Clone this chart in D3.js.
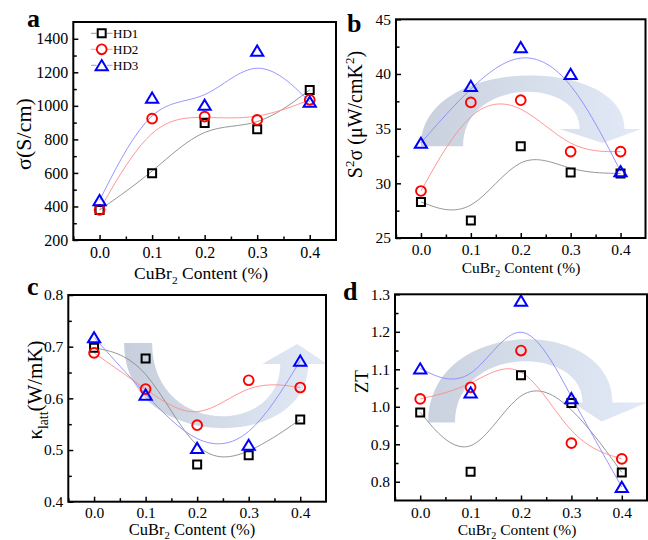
<!DOCTYPE html>
<html><head><meta charset="utf-8">
<script src="https://cdn.jsdelivr.net/npm/d3@7"></script>
<style>
body{margin:0;background:#fff}
text{font-family:"Liberation Serif"}
</style>
</head><body>
<svg id="chart" width="648" height="540"></svg>
<script>
// ---------- data ----------
const contents = [0.0, 0.1, 0.2, 0.3, 0.4];
const seriesNames = ["HD1", "HD2", "HD3"];

// (a) electrical conductivity sigma (S/cm)
const sigmaHD1 = [379, 598, 897, 861, 1095];
const sigmaHD2 = [380, 924, 936, 916, 1036];
const sigmaHD3 = [437, 1049, 1006, 1329, 1024];

// (b) power factor S^2 sigma (uW/cmK^2)
const pfHD1 = [28.3, 26.6, 33.4, 31.0, 30.9];
const pfHD2 = [29.3, 37.4, 37.6, 32.9, 32.9];
const pfHD3 = [33.7, 38.9, 42.45, 40.0, 31.1];

// (c) lattice thermal conductivity (W/mK)
const klHD1 = [0.698, 0.677, 0.472, 0.490, 0.559];
const klHD2 = [0.688, 0.618, 0.548, 0.635, 0.621];
const klHD3 = [0.718, 0.607, 0.504, 0.510, 0.673];

// (d) ZT
const ztHD1 = [0.985, 0.827, 1.084, 1.010, 0.825];
const ztHD2 = [1.021, 1.052, 1.150, 0.903, 0.861];
const ztHD3 = [1.102, 1.038, 1.283, 1.023, 0.786];

// tick labels
const xTickLabels = [0.0, 0.1, 0.2, 0.3, 0.4];
const xMinorTicks = [-0.05, 0.05, 0.15, 0.25, 0.35];
const yTicksA = [200, 400, 600, 800, 1000, 1200, 1400];
const yTicksB = [25, 30, 35, 40, 45];
const yTicksC = [0.4, 0.5, 0.6, 0.7, 0.8];
const yTicksD = [0.8, 0.9, 1.0, 1.1, 1.2, 1.3];

// ---------- styles ----------
const FONT = "Liberation Serif";
const lineColors = ["#8a8a8a", "#ff8a8a", "#8a8aff"];
const markerColors = ["#000000", "#ff0000", "#0000ff"];
const markerTypes = ["square", "circle", "triangle"];

const svg = d3.select("#chart");

function richText(sel, parts, fs) {
  let shift = 0;
  parts.forEach(p => {
    const ts = sel.append("tspan").text(p.t);
    let target = 0;
    if (p.sub) { ts.attr("font-size", fs * 0.65); target = fs * 0.28; }
    else if (p.sup) { ts.attr("font-size", fs * 0.65); target = -fs * 0.4; }
    ts.attr("dy", target - shift);
    shift = target;
  });
}

function drawMarker(g, type, color, cx, cy) {
  if (type === "square") {
    g.append("path").attr("d", d3.symbol(d3.symbolSquare, 64)())
      .attr("transform", `translate(${cx},${cy})`)
      .attr("fill", "none").attr("stroke", color).attr("stroke-width", 2);
  } else if (type === "circle") {
    g.append("path").attr("d", d3.symbol(d3.symbolCircle, Math.PI * 4.9 * 4.9)())
      .attr("transform", `translate(${cx},${cy})`)
      .attr("fill", "none").attr("stroke", color).attr("stroke-width", 1.9);
  } else {
    g.append("path").attr("d", "M0,-5.2L6.1,5L-6.1,5Z")
      .attr("transform", `translate(${cx},${cy})`)
      .attr("fill", "none").attr("stroke", color).attr("stroke-width", 2)
      .attr("stroke-linejoin", "miter");
  }
}

function drawPanel(cfg) {
  const g = svg.append("g").attr("font-family", FONT);
  const x = d3.scaleLinear().domain([-0.05, 0.45]).range([cfg.l, cfg.r]);
  const y = d3.scaleLinear().domain(cfg.yDomain).range([cfg.b, cfg.t]);

  // decorative arrow
  if (cfg.arrow) {
    const a = cfg.arrow;
    const gid = "grad" + cfg.letter;
    const grad = svg.append("defs").append("linearGradient").attr("id", gid)
      .attr("x1", "0").attr("x2", "1").attr("y1", "0").attr("y2", "0");
    grad.append("stop").attr("offset", "0").attr("stop-color", a.c0);
    grad.append("stop").attr("offset", "1").attr("stop-color", a.c1);
    const p = d3.path();
    p.moveTo(x(a.os), y(a.y0));
    p.bezierCurveTo(x(a.os), y(a.oc), x(a.oe), y(a.oc), x(a.oe), y(a.y1));
    p.lineTo(x(a.hr), y(a.y1));
    p.lineTo(x(a.tx), y(a.ty));
    p.lineTo(x(a.hl), y(a.y1));
    p.lineTo(x(a.ie), y(a.y1));
    p.bezierCurveTo(x(a.ie), y(a.ic), x(a.is), y(a.ic), x(a.is), y(a.y0));
    p.closePath();
    g.append("path").attr("d", p.toString()).attr("fill", `url(#${gid})`);
  }

  // smooth curves
  const line = d3.line().x((d, i) => x(contents[i])).y(d => y(d)).curve(d3.curveBasis);
  cfg.series.forEach((s, k) => {
    g.append("path").attr("d", line(s)).attr("fill", "none")
      .attr("stroke", lineColors[k]).attr("stroke-width", 0.9);
  });
  // markers
  cfg.series.forEach((s, k) => {
    s.forEach((v, i) => drawMarker(g, markerTypes[k], markerColors[k], x(contents[i]), y(v)));
  });

  // axes
  const fs = cfg.tickFs;
  const xMin = g.append("g").attr("transform", `translate(0,${cfg.b})`)
    .call(d3.axisBottom(x).tickValues(xMinorTicks).tickSize(-3.5).tickFormat(""));
  const xMaj = g.append("g").attr("transform", `translate(0,${cfg.b})`)
    .call(d3.axisBottom(x).tickValues(xTickLabels).tickSize(-5).tickPadding(cfg.xPad).tickFormat(d3.format(".1f")));
  const yMin = g.append("g").attr("transform", `translate(${cfg.l},0)`)
    .call(d3.axisLeft(y).tickValues(cfg.yMinor).tickSize(-3.5).tickFormat(""));
  const yMaj = g.append("g").attr("transform", `translate(${cfg.l},0)`)
    .call(d3.axisLeft(y).tickValues(cfg.yTicks).tickSize(-5).tickPadding(5).tickFormat(cfg.yFmt));
  [xMin, xMaj, yMin, yMaj].forEach(ax => {
    ax.attr("font-family", null).attr("font-size", null);
    ax.select(".domain").remove();
    ax.selectAll("line").attr("stroke", "#000").attr("stroke-width", 1.5);
    ax.selectAll("text").attr("font-size", fs).attr("font-family", FONT).attr("fill", "#000");
  });
  // frame
  g.append("rect").attr("x", cfg.l).attr("y", cfg.t).attr("width", cfg.r - cfg.l).attr("height", cfg.b - cfg.t)
    .attr("fill", "none").attr("stroke", "#000").attr("stroke-width", 2);

  // x title
  const xt = g.append("text").attr("x", cfg.xTitle[0]).attr("y", cfg.xTitle[1])
    .attr("text-anchor", "middle").attr("font-size", cfg.xTitleFs).attr("font-family", FONT);
  richText(xt, [{t: "CuBr"}, {t: "2", sub: true}, {t: " Content (%)"}], cfg.xTitleFs);

  // y title
  const yt = g.append("text").attr("transform", `translate(${cfg.yTitle[0]},${cfg.yTitle[1]}) rotate(-90)`)
    .attr("text-anchor", "middle").attr("font-size", cfg.yTitleFs).attr("font-family", FONT);
  richText(yt, cfg.yTitleParts, cfg.yTitleFs);

  // panel letter
  g.append("text").attr("x", cfg.letterPos[0]).attr("y", cfg.letterPos[1])
    .attr("font-size", 26).attr("font-weight", "bold").attr("font-family", FONT).text(cfg.letter);

  return {g, x, y};
}

// ---------- panels ----------
const pa = drawPanel({
  letter: "a", l: 73.3, r: 336, t: 22, b: 240,
  yDomain: [200, 1500], yTicks: yTicksA, yMinor: d3.range(300, 1500, 200), yFmt: d3.format("d"),
  series: [sigmaHD1, sigmaHD2, sigmaHD3],
  tickFs: 16, xPad: 6.5,
  xTitle: [201, 279], xTitleFs: 17.5,
  yTitle: [30.5, 134], yTitleFs: 22, yTitleParts: [{t: "σ(S/cm)"}],
  letterPos: [27, 27]
});

drawPanel({
  letter: "b", l: 396, r: 645.5, t: 19.3, b: 238,
  yDomain: [25, 45], yTicks: yTicksB, yMinor: [27.5, 32.5, 37.5, 42.5], yFmt: d3.format("d"),
  series: [pfHD1, pfHD2, pfHD3],
  tickFs: 15.5, xPad: 5.6,
  xTitle: [521, 273], xTitleFs: 15.5,
  yTitle: [362, 114.5], yTitleFs: 20,
  yTitleParts: [{t: "S"}, {t: "2", sup: true}, {t: "σ (μW/cmK"}, {t: "2", sup: true}, {t: ")"}],
  letterPos: [347, 32],
  arrow: {os: 0.0, is: 0.0845, y0: 33.4, oe: 0.408, ie: 0.318, y1: 34.97,
          oc: 41.74, ic: 39.74, hl: 0.278, hr: 0.442, tx: 0.364, ty: 33.69,
          c0: "#c8d1dd", c1: "#e2eaf7"}
});

drawPanel({
  letter: "c", l: 68.3, r: 326, t: 295, b: 501.7,
  yDomain: [0.4, 0.8], yTicks: yTicksC, yMinor: [0.45, 0.55, 0.65, 0.75], yFmt: d3.format(".1f"),
  series: [klHD1, klHD2, klHD3],
  tickFs: 15.5, xPad: 5,
  xTitle: [192, 534.5], xTitleFs: 16.5,
  yTitle: [42, 390], yTitleFs: 21,
  yTitleParts: [{t: "κ"}, {t: "latt", sub: true}, {t: "(W/mK)"}],
  letterPos: [27, 295],
  arrow: {os: 0.0583, is: 0.1126, y0: 0.7071, oe: 0.4155, ie: 0.3612, y1: 0.6665,
          oc: 0.4946, ic: 0.5256, hl: 0.3262, hr: 0.4524, tx: 0.3942, ty: 0.7052,
          c0: "#c6cfdb", c1: "#e2eaf7"}
});

drawPanel({
  letter: "d", l: 395, r: 647, t: 294.3, b: 500.5,
  yDomain: [0.75, 1.3], yTicks: yTicksD, yMinor: [0.85, 0.95, 1.05, 1.15, 1.25], yFmt: d3.format(".1f"),
  series: [ztHD1, ztHD2, ztHD3],
  tickFs: 15.5, xPad: 6,
  xTitle: [517, 534.5], xTitleFs: 15.5,
  yTitle: [368, 381.7], yTitleFs: 19,
  yTitleParts: [{t: "ZT"}],
  letterPos: [343, 300],
  arrow: {os: 0.0158, is: 0.0692, y0: 0.9578, oe: 0.3816, ie: 0.3223, y1: 1.0112,
          oc: 1.2447, ic: 1.1663, hl: 0.3025, hr: 0.4508, tx: 0.3599, ty: 0.9604,
          c0: "#c9d2de", c1: "#e2eaf7"}
});

// ---------- legend (panel a) ----------
const leg = pa.g.append("g");
const legRows = [33.3, 49.3, 65.3];
seriesNames.forEach((name, k) => {
  const yy = legRows[k];
  leg.append("line").attr("x1", 91).attr("x2", 96.5).attr("y1", yy).attr("y2", yy)
    .attr("stroke", lineColors[k]).attr("stroke-width", 0.9);
  leg.append("line").attr("x1", 107).attr("x2", 112.5).attr("y1", yy).attr("y2", yy)
    .attr("stroke", lineColors[k]).attr("stroke-width", 0.9);
  drawMarker(leg, markerTypes[k], markerColors[k], 101.7, yy);
  leg.append("text").attr("x", 113).attr("y", yy + 4.6).attr("font-size", 13).attr("font-family", FONT).text(name);
});
</script>
</body></html>
